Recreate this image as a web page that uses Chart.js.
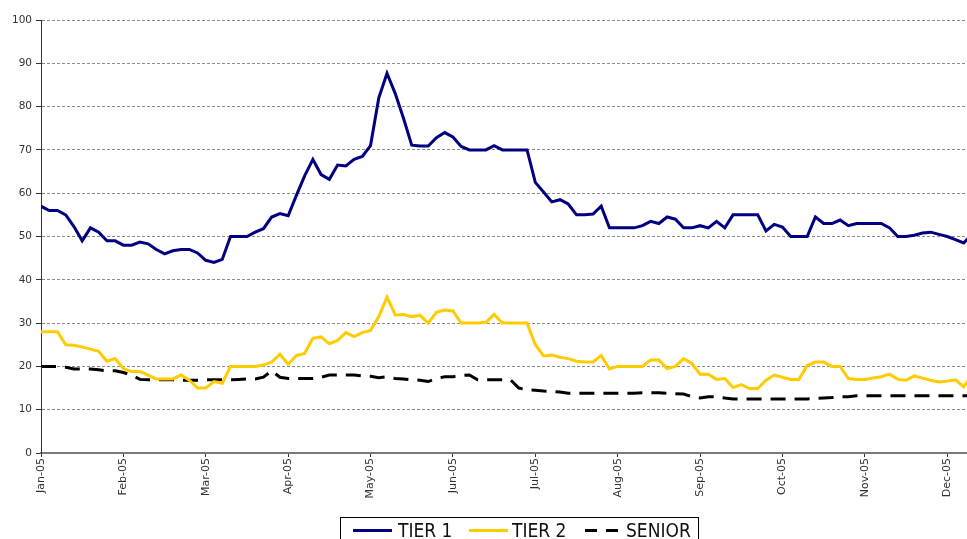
<!DOCTYPE html>
<html>
<head>
<meta charset="utf-8">
<script src="https://cdn.jsdelivr.net/npm/chart.js@4.4.1/dist/chart.umd.min.js"></script>
<style>
    html, body { margin: 0; padding: 0; background: #fff; }
    #wrap { position: relative; width: 967px; height: 539px; overflow: hidden; }
    #legend {
        position: absolute; left: 340px; top: 517px; width: 359px; height: 30px;
        border: 1px solid #000; box-sizing: border-box;
        font-family: "Liberation Sans Narrow", "DejaVu Sans Condensed", "Arial Narrow", sans-serif;
        font-stretch: condensed; font-size: 19px; color: #111; white-space: nowrap;
    }
    #legend .item { position: absolute; top: 1px; }
    #legend .swatch { position: absolute; top: 11px; height: 3px; }
</style>
</head>
<body>
<div id="wrap">
    <canvas id="chart" width="967" height="539"></canvas>
    <div id="legend"></div>
</div>
<script>
// Month tick labels (one per month, x axis is in months from Jan-05)
const monthLabels = ['Jan-05', 'Feb-05', 'Mar-05', 'Apr-05', 'May-05', 'Jun-05',
    'Jul-05', 'Aug-05', 'Sep-05', 'Oct-05', 'Nov-05', 'Dec-05'];

// Samples are taken every 0.1 month starting at Jan-05
const sampleStep = 0.1;

const tier1 = [
    57, 56, 56, 55, 52.3, 49, 52, 51, 49, 49,
    48, 48, 48.7, 48.3, 47, 46, 46.7, 47, 47, 46.2,
    44.5, 44, 44.7, 50, 50, 50, 51, 51.8, 54.5, 55.3,
    54.8, 59.5, 64, 67.8, 64.3, 63.2, 66.5, 66.3, 67.8, 68.5,
    71, 82, 87.7, 83, 77.3, 71.1, 70.9, 70.9, 72.8, 74,
    73, 70.8, 70, 70, 70, 71, 70, 70, 70, 70,
    62.5, 60.3, 58, 58.5, 57.5, 55, 55, 55.2, 57, 52,
    52, 52, 52, 52.5, 53.5, 53, 54.5, 54, 52, 52,
    52.5, 52, 53.5, 52, 55, 55, 55, 55, 51.3, 52.8,
    52.2, 50, 50, 50, 54.5, 53, 53, 53.8, 52.5, 53,
    53, 53, 53, 52, 50, 50, 50.3, 50.8, 51, 50.5,
    50, 49.3, 48.5, 50.5
];

const tier2 = [
    28, 28, 28, 25, 24.9, 24.5, 24, 23.5, 21.2, 21.8,
    19.5, 18.8, 18.8, 18, 17.1, 17.1, 17.1, 18, 16.8, 15,
    15, 16.5, 16.1, 20, 20, 20, 20, 20.3, 21, 22.8,
    20.5, 22.5, 23, 26.5, 26.8, 25.2, 26, 27.8, 26.9, 27.8,
    28.3, 31.5, 36, 31.9, 32, 31.5, 31.8, 30, 32.5, 33,
    32.8, 30, 30, 30, 30.2, 32, 30, 30, 30, 30,
    25, 22.4, 22.6, 22.1, 21.8, 21.2, 21, 21, 22.5, 19.4,
    20, 20, 20, 20, 21.5, 21.5, 19.5, 20, 21.8, 20.7,
    18.2, 18.2, 17, 17.2, 15.1, 15.8, 14.9, 14.9, 16.8, 18,
    17.5, 17, 17, 20.2, 21, 21, 20, 20, 17.2, 17,
    17, 17.3, 17.6, 18.2, 17, 16.8, 17.8, 17.3, 16.8, 16.4,
    16.6, 16.9, 15.3, 18
];

const senior = [
    20, 20, 20, 19.8, 19.4, 19.4, 19.4, 19.2, 19, 19,
    18.6, 18, 17, 16.9, 16.9, 16.9, 16.9, 16.8, 16.8, 16.8,
    16.9, 16.9, 16.9, 16.9, 17, 17.1, 17.1, 17.5, 19, 17.5,
    17.2, 17.2, 17.2, 17.2, 17.5, 18, 18, 18, 18, 17.8,
    17.7, 17.4, 17.6, 17.2, 17.1, 16.9, 16.8, 16.5, 17.2, 17.6,
    17.6, 17.9, 18, 16.9, 16.9, 16.9, 16.9, 16.9, 15, 14.6,
    14.5, 14.3, 14.2, 14.1, 13.8, 13.8, 13.8, 13.8, 13.8, 13.8,
    13.8, 13.8, 13.8, 13.9, 13.9, 13.9, 13.8, 13.7, 13.6, 13,
    12.7, 13, 13, 12.7, 12.5, 12.5, 12.5, 12.5, 12.5, 12.5,
    12.5, 12.5, 12.5, 12.5, 12.6, 12.7, 12.8, 13, 13, 13.2,
    13.2, 13.2, 13.2, 13.2, 13.2, 13.2, 13.2, 13.2, 13.2, 13.2,
    13.2, 13.2, 13.2, 13.2
];

const seriesNames = ['TIER 1', 'TIER 2', 'SENIOR'];
const seriesColors = ['#000080', '#FFCC00', '#000000'];

function toPoints(values) {
    return values.map((v, i) => ({ x: i * sampleStep, y: v }));
}

function mkDataset(label, values, color, dash) {
    return {
        label,
        data: toPoints(values),
        borderColor: color,
        backgroundColor: 'transparent',
        borderWidth: 3,
        borderDash: dash || [],
        fill: false,
        tension: 0,
        pointRadius: 0
    };
}

new Chart(document.getElementById('chart'), {
    type: 'line',
    data: {
        datasets: [
            mkDataset(seriesNames[0], tier1, seriesColors[0]),
            mkDataset(seriesNames[1], tier2, seriesColors[1]),
            mkDataset(seriesNames[2], senior, seriesColors[2], [15, 9])
        ]
    },
    options: {
        responsive: false,
        animation: false,
        layout: { padding: { top: 20, right: 0, bottom: 0, left: 0 } },
        plugins: { legend: { display: false }, tooltip: { enabled: false } },
        scales: {
            x: {
                type: 'linear',
                min: 0,
                max: 11.24,
                afterFit: s => { s.height = 86; },
                border: { display: true, color: '#7a7a7a', width: 2 },
                grid: { drawOnChartArea: false, drawTicks: true, tickLength: 4, tickColor: '#333' },
                ticks: {
                    stepSize: 1,
                    includeBounds: false,
                    autoSkip: false,
                    maxRotation: 90,
                    minRotation: 90,
                    padding: 1,
                    color: '#333',
                    font: { family: 'DejaVu Sans', size: 11 },
                    callback: v => monthLabels[Math.round(v)] || ''
                }
            },
            y: {
                min: 0,
                max: 100,
                afterFit: s => { s.width = 41; },
                border: { display: true, color: '#333', width: 1, dash: [3, 2] },
                grid: { color: '#8a8a8a', lineWidth: 1, tickLength: 5, tickColor: '#333' },
                ticks: {
                    stepSize: 10,
                    padding: 4,
                    color: '#333',
                    font: { family: 'DejaVu Sans', size: 10.5 }
                }
            }
        }
    }
});

// HTML legend inside a bordered box (positions match the reference layout)
(function () {
    const legend = document.getElementById('legend');
    const layout = [
        { swatch: 12, text: 57 },
        { swatch: 128, text: 171 },
        { swatch: 244, text: 285 }
    ];
    seriesNames.forEach((name, i) => {
        const sw = document.createElement('span');
        sw.className = 'swatch';
        sw.style.left = layout[i].swatch + 'px';
        sw.style.width = '39px';
        if (i === 2) {
            sw.style.width = '36px';
            sw.style.background = 'repeating-linear-gradient(to right, #000 0 12px, transparent 12px 21px)';
        } else {
            sw.style.background = seriesColors[i];
        }
        legend.appendChild(sw);
        const t = document.createElement('span');
        t.className = 'item';
        t.style.left = layout[i].text + 'px';
        t.textContent = name;
        legend.appendChild(t);
    });
})();
</script>
</body>
</html>
